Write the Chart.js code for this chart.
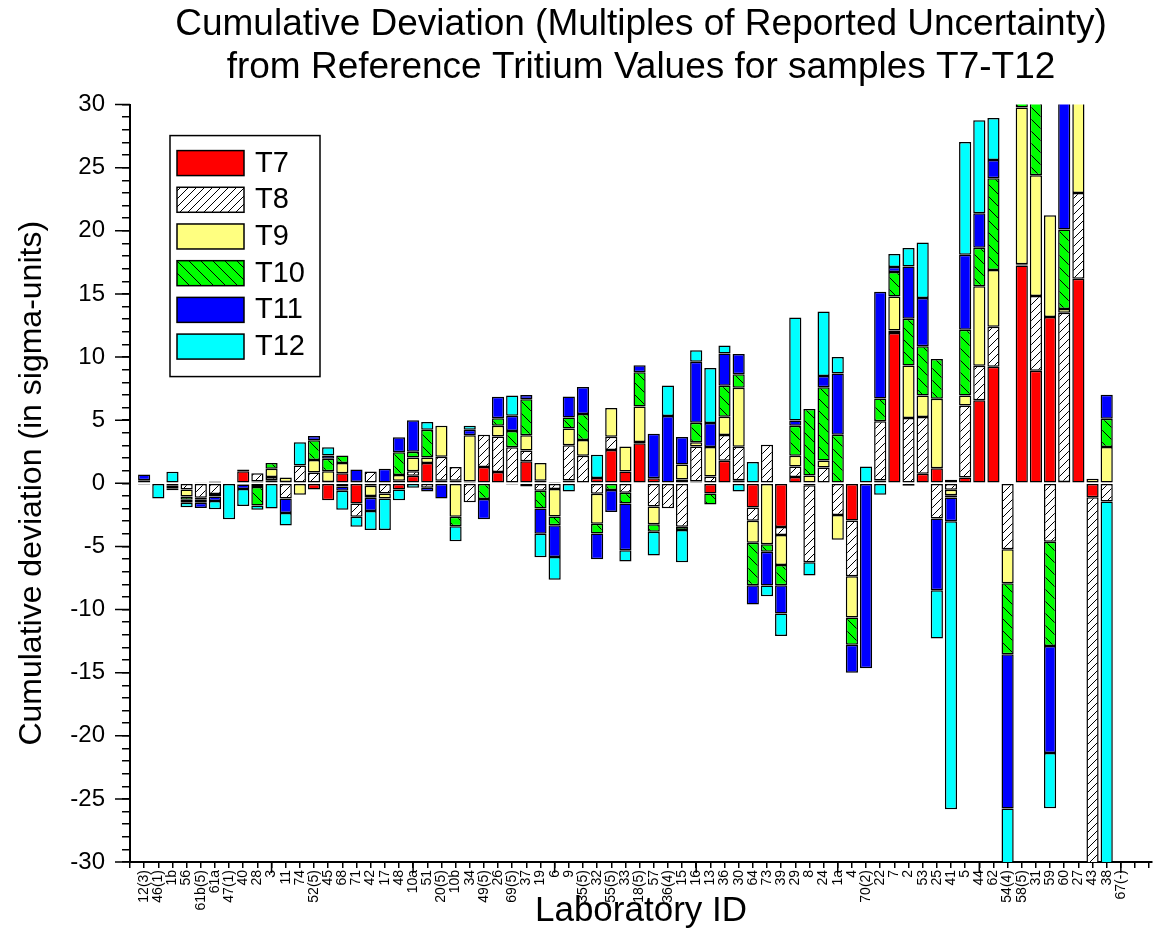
<!DOCTYPE html>
<html>
<head>
<meta charset="utf-8">
<script src="https://cdn.jsdelivr.net/npm/chart.js@4.4.1/dist/chart.umd.min.js"></script>
<style>
html,body{margin:0;padding:0;background:#fff;}
</style>
</head>
<body>
<canvas id="mainChart" width="1168" height="932"></canvas>
<script>
// lab ids along the x axis
const labs = ['12(3)','46(1)','1b','56','61b(5)','61a','47(1)','40','28','3',
  '11','74','52(5)','45','68','71','42','17','48','10a',
  '51','20(5)','10b','34','49(5)','26','69(5)','37','19','6',
  '9','35(5)','32','55(5)','33','18(5)','57','36(4)','15','16',
  '13','36','30','64','73','39','29','8','24','1a',
  '4','70(2)','22','7','2','53','25','41','5','44',
  '62','54(4)','58(5)','31','59','60','27','43','38','67(-)'];

// deviation per sample, in sigma units
const t7 = [-0.1,0,-0.15,0,0.05,0.15,0,0.95,0.15,0.25,
  0.1,0,-0.5,-1.35,0.8,-1.6,-0.2,0,-0.5,0.6,
  1.6,0.2,0.2,0.15,1.3,0.9,-0.1,1.75,0.2,0.1,
  0.22,0,0.41,2.63,0.94,3.18,0.4,0,0.3,0.15,
  -0.8,1.78,0.25,-1.92,0,-3.47,0.5,-0.15,0,0,
  -2.95,0,0.22,11.9,-0.2,0.75,1.2,0.28,0.45,6.57,
  9.23,0,17.26,8.92,13.17,0.1,16.2,-1.1,0,0];
const t8 = [0.25,0,-0.15,-0.5,-1.15,-0.85,0,-0.1,0.65,0.25,
  -1.2,1.4,0.85,0.1,-0.25,-1.05,0.93,-0.8,0.2,0.35,
  -0.35,1.9,1.1,-1.5,2.55,2.8,2.85,0.85,-0.6,-0.46,
  2.8,2.18,-0.83,1.06,-0.75,0.1,-1.84,-1.97,-3.45,2.77,
  0.54,2.04,2.64,-1.05,3.05,-0.63,0.83,-6.1,1.25,-2.52,
  -4.41,0,4.7,0.2,5.17,4.5,-2.79,-0.52,5.72,2.74,
  3.17,-5.22,0.1,5.91,-4.64,13.4,6.8,-32,-1.45,0];
const t9 = [0,0,0,-0.55,-0.15,0,0,0,-0.3,0.65,
  0.35,-0.9,1.0,0.85,0.8,0,-0.8,-0.4,0.45,1.1,
  0.45,2.45,-2.65,3.65,0,0.85,0,1.2,1.4,-2.17,
  1.33,1.24,-2.38,2.27,1.98,2.8,-1.4,0,1.19,0.34,
  2.33,1.45,4.68,-1.74,-4.82,-2.38,0.85,0.62,0.55,-1.96,
  -3.27,0,0,2.7,4.17,1.7,5.5,-0.42,0.79,6.29,
  4.5,-2.7,12.4,9.57,8.06,0.3,8.5,0.35,2.87,0];
const t10 = [0,0,-0.1,-0.25,-0.25,-0.2,0,0.15,-1.45,0.45,
  0,0,1.55,1.0,0.6,0.1,-0.15,0,1.8,0.45,
  2.2,0,-0.75,0,-1.25,0.6,1.3,2.85,-1.4,-0.69,
  0.87,2.06,-0.77,-0.54,-0.85,2.72,-0.6,0,-0.26,1.54,
  -0.88,2.46,1.06,-3.36,-0.61,-1.59,2.38,5.26,5.8,3.84,
  -2.17,0,1.8,1.94,3.7,3.9,3.15,-0.18,5.2,3.06,
  7.26,-5.62,2.5,6.5,-8.24,6.3,1,0,2.24,0];
const t11 = [0.45,0,-0.15,-0.25,-0.4,-0.35,0,-0.35,0,0,
  -1.15,0,0.35,0.25,-0.35,1.0,-1.05,1.15,1.2,2.5,
  -0.3,-1.2,0,0.45,-1.6,1.7,1.2,0.35,-2.0,-2.51,
  1.66,2.14,-2.03,-1.74,-3.7,0.55,3.52,5.34,2.17,4.83,
  1.9,2.56,1.61,-1.53,-2.67,-2.25,0.42,0,0.9,4.86,
  -2.2,-14.65,8.45,0.4,4.14,3.83,-5.68,-1.88,5.94,2.73,
  1.44,-12.23,1.5,2,-8.48,11,0.5,0,1.9,0];
const t12 = [0,-1.2,0.92,-0.35,0,-0.65,-2.85,-1.35,-0.35,-2.0,
  -1.0,1.85,0,0.65,-1.5,-0.8,-1.5,-2.5,-0.85,-0.35,
  0.6,0,-1.2,0.3,0,0,1.6,-0.25,-1.85,-1.82,
  -0.65,0,1.85,0,-0.9,0,-1.88,2.41,-2.54,0.9,
  4.36,0.63,-0.65,1.68,-0.84,-1.78,8.15,-1.05,5.1,1.3,
  0,1.33,-0.9,1.03,1.46,4.4,-3.83,-22.82,8.94,7.37,
  3.34,-6,1,1,-4.39,1,0.5,0,-32,0];

const seriesNames = ['T7','T8','T9','T10','T11','T12'];
const seriesVals = [t7, t8, t9, t10, t11, t12];

const FONT = '"Liberation Sans", Arial, sans-serif';
Chart.defaults.font.family = FONT;
Chart.defaults.color = '#000';

const canvas = document.getElementById('mainChart');
const ctx = canvas.getContext('2d');

function hatch(bg, dir, step){
    const c = document.createElement('canvas');
    c.width = step; c.height = step;
    const g = c.getContext('2d');
    g.fillStyle = bg;
    g.fillRect(0, 0, step, step);
    g.strokeStyle = '#000';
    g.lineWidth = 1;
    g.beginPath();
    if(dir > 0){
        g.moveTo(0, step); g.lineTo(step, 0);
        g.moveTo(-1, 1); g.lineTo(1, -1);
        g.moveTo(step - 1, step + 1); g.lineTo(step + 1, step - 1);
    } else {
        g.moveTo(0, 0); g.lineTo(step, step);
        g.moveTo(step - 1, -1); g.lineTo(step + 1, 1);
        g.moveTo(-1, step - 1); g.lineTo(1, step + 1);
    }
    g.stroke();
    return ctx.createPattern(c, 'repeat');
}

const fills = ['#ff0000', hatch('#ffffff', 1, 8), '#ffff80', hatch('#00ff00', -1, 12), '#0000ff', '#00ffff'];

const datasets = seriesNames.map((name, k) => ({
    label: name,
    data: seriesVals[k].map((v, i) => ({x: i + 1, y: v === 0 ? null : v})),
    backgroundColor: fills[k],
    borderColor: '#000',
    borderWidth: 1.5,
    borderSkipped: false,
    barPercentage: 0.86,
    categoryPercentage: 1
}));

// longer ticks every 5 (y) and every 10 (x), plus the framed legend
const extras = {
    id: 'extras',
    afterDraw(chart){
        const c = chart.ctx;
        const xs = chart.scales.x, ys = chart.scales.y;
        c.save();
        c.strokeStyle = '#000';
        c.lineWidth = 1.5;
        c.beginPath();
        for(let v = -30; v <= 30; v += 5){
            const p = ys.getPixelForValue(v);
            c.moveTo(ys.right - 15, p); c.lineTo(ys.right, p);
        }
        for(let v = 10; v <= 70; v += 10){
            const p = xs.getPixelForValue(v);
            c.moveTo(p, xs.top); c.lineTo(p, xs.top + 11);
        }
        c.stroke();

        const a = chart.chartArea;
        const bx = a.left + 40, by = a.top + 31;
        c.fillStyle = '#fff';
        c.fillRect(bx, by, 150, 241);
        c.strokeRect(bx, by, 150, 241);
        c.font = '29px ' + FONT;
        c.textBaseline = 'middle';
        chart.data.datasets.forEach((ds, i) => {
            const y = by + 15 + i * 36.7;
            c.fillStyle = ds.backgroundColor;
            c.fillRect(bx + 7, y, 67, 25);
            c.strokeRect(bx + 7, y, 67, 25);
            c.fillStyle = '#000';
            c.fillText(ds.label, bx + 85, y + 13);
        });
        c.restore();
    }
};

new Chart(ctx, {
    type: 'bar',
    data: { datasets: datasets },
    plugins: [extras],
    options: {
        responsive: false,
        devicePixelRatio: 1,
        animation: false,
        layout: { padding: 0 },
        plugins: {
            legend: { display: false },
            tooltip: { enabled: false },
            title: {
                display: true,
                fullSize: false,
                text: ['Cumulative Deviation (Multiples of Reported Uncertainty)',
                       'from Reference Tritium Values for samples T7-T12'],
                color: '#000',
                font: { size: 37, weight: 'normal', lineHeight: 1.17 },
                padding: { top: 3, bottom: 15 }
            }
        },
        scales: {
            x: {
                type: 'linear',
                min: 0,
                max: 72.2,
                offset: false,
                stacked: true,
                afterFit: s => { s.height = 70; },
                ticks: {
                    stepSize: 1,
                    autoSkip: false,
                    includeBounds: false,
                    maxTicksLimit: 200,
                    minRotation: 90,
                    maxRotation: 90,
                    padding: 2,
                    color: '#000',
                    font: { size: 14 },
                    callback: v => labs[v - 1] || ''
                },
                grid: { drawOnChartArea: false, offset: false, tickLength: 6, color: '#000', lineWidth: 1.5 },
                border: { color: '#000', width: 2 },
                title: {
                    display: true,
                    text: 'Laboratory ID',
                    color: '#000',
                    font: { size: 35 },
                    padding: { top: 0, bottom: 0 }
                }
            },
            y: {
                min: -30,
                max: 30,
                stacked: true,
                afterFit: s => { s.width = 130; },
                ticks: {
                    stepSize: 1,
                    autoSkip: false,
                    maxTicksLimit: 200,
                    padding: 17,
                    color: '#000',
                    font: { size: 24 },
                    callback: v => (v % 5 === 0 ? String(v) : '')
                },
                grid: { drawOnChartArea: false, tickLength: 8, color: '#000', lineWidth: 1.5 },
                border: { color: '#000', width: 2 },
                title: {
                    display: true,
                    text: 'Cumulative deviation (in sigma-units)',
                    color: '#000',
                    font: { size: 32 },
                    padding: { top: 13, bottom: 0 }
                }
            }
        }
    }
});
</script>
</body>
</html>
